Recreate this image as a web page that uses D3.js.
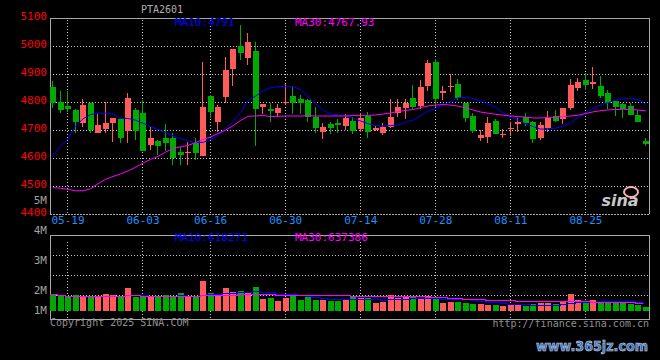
<!DOCTYPE html>
<html><head><meta charset="utf-8">
<script src="https://cdn.jsdelivr.net/npm/d3@7"></script>
<style>body{margin:0;background:#000;overflow:hidden} svg{display:block}</style>
</head><body><svg id="c" width="660" height="360"></svg>
<script>
const title = "PTA2601";
const dates = ["05-15","05-16","05-19","05-20","05-21","05-22","05-23","05-26","05-27","05-28","05-29","05-30",
"06-03","06-04","06-05","06-06","06-09","06-10","06-11","06-12","06-13","06-16","06-17","06-18","06-19","06-20","06-23","06-24","06-25","06-26","06-27","06-30",
"07-01","07-02","07-03","07-04","07-07","07-08","07-09","07-10","07-11","07-14","07-15","07-16","07-17","07-18","07-21","07-22","07-23","07-24","07-25","07-28","07-29","07-30","07-31",
"08-01","08-04","08-05","08-06","08-07","08-08","08-11","08-12","08-13","08-14","08-15","08-18","08-19","08-20","08-21","08-22","08-25","08-26","08-27","08-28","08-29",
"09-01","09-02","09-03","09-04"];
const open  = [4852,4800,4786,4771,4726,4797,4691,4702,4724,4738,4698,4771,4761,4647,4661,4673,4673,4621,4617,4652,
               4608,4821,4730,4819,4918,5000,4958,4982,4783,4775,4762,4795,4821,4811,4807,4748,4694,4722,4724,4714,
               4732,4702,4750,4700,4691,4712,4760,4777,4813,4786,4857,4944,4833,4852,4864,4795,4751,4672,4676,4732,
               4683,4703,4722,4748,4730,4673,4706,4749,4739,4780,4851,4879,4864,4857,4832,4804,4793,4785,4752,4660];
const high  = [4875,4839,4839,4775,4811,4797,4756,4800,4743,4740,4832,4780,4807,4712,4664,4722,4688,4641,4656,4671,
               4942,4825,4789,4962,4990,5075,5045,5014,4793,4798,4793,4863,4855,4825,4810,4781,4724,4730,4739,4756,
               4745,4760,4763,4714,4726,4811,4810,4811,4861,4879,4950,4954,4857,4900,4881,4797,4760,4700,4748,4739,
               4702,4727,4742,4760,4732,4730,4768,4772,4778,4882,4887,4905,4926,4893,4843,4805,4795,4795,4772,4672];
const low   = [4777,4762,4766,4689,4712,4690,4691,4691,4658,4653,4653,4664,4626,4629,4611,4626,4575,4575,4575,4593,
               4608,4742,4694,4798,4858,4950,4932,4644,4757,4730,4745,4789,4756,4756,4730,4691,4668,4686,4688,4700,
               4686,4694,4673,4697,4682,4707,4748,4739,4774,4774,4841,4781,4807,4837,4807,4730,4691,4662,4655,4686,
               4670,4680,4694,4714,4655,4664,4694,4730,4720,4771,4841,4843,4846,4813,4774,4750,4744,4754,4730,4643];
const close = [4798,4771,4776,4730,4789,4700,4718,4726,4743,4673,4816,4697,4626,4673,4643,4653,4601,4612,4621,4619,
               4781,4766,4781,4914,4988,4976,5014,4775,4793,4769,4777,4801,4798,4795,4745,4708,4712,4708,4718,4743,
               4698,4742,4694,4708,4710,4747,4781,4797,4781,4852,4940,4811,4839,4857,4814,4744,4698,4682,4724,4686,
               4686,4708,4727,4726,4667,4717,4744,4733,4777,4861,4871,4862,4873,4821,4795,4781,4775,4754,4730,4650];
const volume = [980000,900000,860000,927000,887000,847000,873000,980000,927000,847000,1220000,847000,847000,847000,847000,940000,873000,1020000,887000,847000,
                1500000,1020000,940000,1220000,1060000,1100000,1060000,1260000,780000,820000,700000,820000,913000,740000,847000,740000,740000,700000,700000,767000,
                873000,807000,833000,620000,673000,940000,833000,847000,913000,780000,913000,767000,620000,673000,673000,633000,580000,580000,553000,527000,
                500000,527000,540000,500000,580000,633000,633000,593000,700000,980000,740000,607000,740000,607000,633000,633000,607000,580000,553000,473000];
const ma10 = [4606,4643,4668,4714,4740,4755,4760,4760,4757,4742,4741,4735,4724,4713,4702,4690,4679,4669,4661,4655,
              4656,4666,4682,4704,4732,4763,4806,4821,4840,4851,4855,4855,4855,4844,4818,4793,4771,4757,4753,4751,
              4742,4732,4722,4716,4714,4716,4718,4728,4736,4752,4768,4778,4789,4803,4815,4817,4812,4803,4793,4781,
              4760,4745,4734,4722,4712,4703,4704,4707,4714,4727,4744,4762,4778,4790,4798,4808,4812,4813,4808,4791];
const ma30 = [4494,4492,4488,4483,4483,4490,4508,4524,4534,4543,4554,4567,4582,4595,4606,4621,4634,4640,4645,4655,
              4666,4675,4688,4700,4715,4734,4749,4750,4752,4748,4749,4750,4750,4750,4751,4750,4750,4750,4750,4750,
              4752,4751,4752,4754,4757,4761,4766,4770,4773,4780,4786,4789,4791,4789,4785,4779,4771,4764,4760,4756,
              4753,4750,4748,4746,4743,4743,4745,4746,4748,4750,4753,4759,4765,4769,4772,4773,4774,4773,4771,4768];
const priceTicks = [4400,4500,4600,4700,4800,4900,5000,5100];
const dateTicks = ["05-19","06-03","06-16","06-30","07-14","07-28","08-11","08-25"];
const volTickLabels = ["1M","2M","3M","4M","5M"];
const volTickValues = [1,2,3,4,5];
const maLabels = ["MA10:4791","MA30:4767.93"];
const volMaLabels = ["MA10:618271","MA30:637386"];

const UP = "#ff5b5b", DOWN = "#00aa00", GRID = "#c8c8c8", FRAME = "#a8a8a8";
const MONO = "'DejaVu Sans Mono', monospace";
const svg = d3.select("#c");
svg.append("rect").attr("width",660).attr("height",360).attr("fill","#000");

const L = 50, R = 649, T = 18, B = 214, VT = 235, VB = 319, VBASE = 311;
const x = d3.scalePoint().domain(d3.range(dates.length)).range([53, 646]);
const y = d3.scaleLinear().domain([4400, 5100]).range([B, T]);
const yv = d3.scaleLinear().domain([300000, 1500000]).range([VBASE, 281]);
const yvLabel = d3.scaleLinear().domain([4/3, 5]).range([314, 204]).clamp(true);

const g = svg.append("g").attr("shape-rendering","crispEdges");

// price grid
g.selectAll(".hg").data(priceTicks.filter(d => d > 4400 && d < 5100)).join("line")
  .attr("x1", L).attr("x2", R).attr("y1", d => Math.round(y(d))+0.5).attr("y2", d => Math.round(y(d))+0.5)
  .attr("stroke", GRID).attr("stroke-dasharray","1,2");
const tickIdx = dateTicks.map(t => dates.indexOf(t));
g.selectAll(".vg").data(tickIdx).join("line")
  .attr("x1", d => Math.round(x(d))-0.5).attr("x2", d => Math.round(x(d))-0.5)
  .attr("y1", T+2).attr("y2", B).attr("stroke", GRID).attr("stroke-dasharray","1,2");
// volume grid
[0.25,0.5,0.75].forEach(f => {
  const yy = Math.round(VT + (VB-VT)*f*0.95) + 0.5;
  g.append("line").attr("x1",L).attr("x2",R).attr("y1",yy).attr("y2",yy).attr("stroke",GRID).attr("stroke-dasharray","1,2");
});
g.selectAll(".vvg").data(tickIdx).join("line")
  .attr("x1", d => Math.round(x(d))-0.5).attr("x2", d => Math.round(x(d))-0.5)
  .attr("y1", VT+7).attr("y2", VB).attr("stroke", GRID).attr("stroke-dasharray","1,2");

// frames
g.append("path").attr("d",`M${L+0.5},${T} V${B} M${L},${T+0.5} H${R} M${R+0.5},${T} V${B}`).attr("stroke",FRAME).attr("fill","none").attr("stroke-width",1.5);
g.append("line").attr("x1",L).attr("x2",R).attr("y1",B+0.5).attr("y2",B+0.5).attr("stroke",FRAME).attr("stroke-dasharray","2,1");
g.append("path").attr("d",`M${L+0.5},${VT} V${VB} M${L},${VT+0.5} H${R} M${R+0.5},${VT} V${VB} M${L},${VB+0.5} H${R+1}`).attr("stroke",FRAME).attr("fill","none").attr("stroke-width",1.5);

// candles
const idx = d3.range(dates.length);
const col = i => close[i] >= open[i] ? UP : DOWN;
g.selectAll(".wick").data(idx).join("line")
  .attr("x1", i => Math.round(x(i))-0.5).attr("x2", i => Math.round(x(i))-0.5)
  .attr("y1", i => y(high[i])).attr("y2", i => y(low[i])).attr("stroke", col);
g.selectAll(".body").data(idx).join("rect")
  .attr("x", i => Math.round(x(i))-3).attr("width", 6)
  .attr("y", i => y(Math.max(open[i],close[i])))
  .attr("height", i => Math.max(1, Math.abs(y(open[i])-y(close[i]))))
  .attr("fill", col);

// MA lines
svg.append("path").datum(ma10).attr("d", d3.line().x((d,i)=>x(i)).y(d=>y(d))).attr("fill","none").attr("stroke","#0000ff").attr("stroke-width",1);
svg.append("path").datum(ma30).attr("d", d3.line().x((d,i)=>x(i)).y(d=>y(d))).attr("fill","none").attr("stroke","#ff00ff").attr("stroke-width",1);

// volume bars
g.selectAll(".vol").data(idx).join("rect")
  .attr("x", i => Math.round(x(i))-3).attr("width", 6)
  .attr("y", i => yv(volume[i])).attr("height", i => VBASE - yv(volume[i]))
  .attr("fill", col);
const rollMean = (arr, n) => arr.map((d,i) => d3.mean(arr.slice(Math.max(0,i-n+1), i+1)));
const vma10 = rollMean(volume,10), vma30 = rollMean(volume,30);
const vline = d3.line().x((d,i)=>x(i)-3).y(d=>Math.round(yv(d))+0.5).curve(d3.curveStepAfter);
g.append("path").datum(vma10).attr("d", vline).attr("fill","none").attr("stroke","#0000ff");
g.append("path").datum(vma30).attr("d", vline).attr("fill","none").attr("stroke","#ff00ff");

// text
const txt = (s, xx, yy, fill, anchor="start", size=10) => svg.append("text").text(s).attr("x",xx).attr("y",yy)
  .attr("fill",fill).attr("font-family",MONO).attr("font-size",size).attr("text-anchor",anchor);
priceTicks.forEach(p => txt(String(p), 47, y(p)+2, "#ff0000", "end", 11));
dateTicks.forEach((d,i) => txt(d, x(tickIdx[i]), 224, "#1e90ff", "middle", 11));
volTickLabels.forEach((s,i) => txt(s, 47, yvLabel(volTickValues[i]), "#a0a0a0", "end", 11));
txt(title, 141, 13, "#b0b0b0", "start", 10);
txt(maLabels[0], 175, 26, "#0000ff", "start", 11);
txt(maLabels[1], 295, 26, "#ff00ff", "start", 11);
txt(volMaLabels[0], 175, 241, "#0000ff", "start", 11);
txt(volMaLabels[1], 295, 241, "#ff00ff", "start", 11);
txt("Copyright 2025 SINA.COM", 50, 326, "#909090", "start", 10);
txt("http://finance.sina.com.cn", 649, 327, "#909090", "end", 10);
// sina logo watermark
svg.append("text").text("sina").attr("x",620).attr("y",206).attr("text-anchor","middle")
  .attr("font-family","'DejaVu Sans', sans-serif").attr("font-weight","bold").attr("font-style","italic")
  .attr("font-size",16).attr("fill","#c8c8c8");
svg.append("ellipse").attr("cx",631).attr("cy",192).attr("rx",7).attr("ry",5).attr("fill","none").attr("stroke","#ffb0b0").attr("stroke-width",2);
// site watermark
svg.append("text").text("www.365jz.com").attr("x",536).attr("y",351)
  .attr("textLength",112).attr("lengthAdjust","spacingAndGlyphs")
  .attr("font-family","'DejaVu Sans', sans-serif").attr("font-weight","bold").attr("font-size",14)
  .attr("fill","#3a6fb0").attr("stroke","#c8d8f0").attr("stroke-width",0.6);
</script></body></html>
